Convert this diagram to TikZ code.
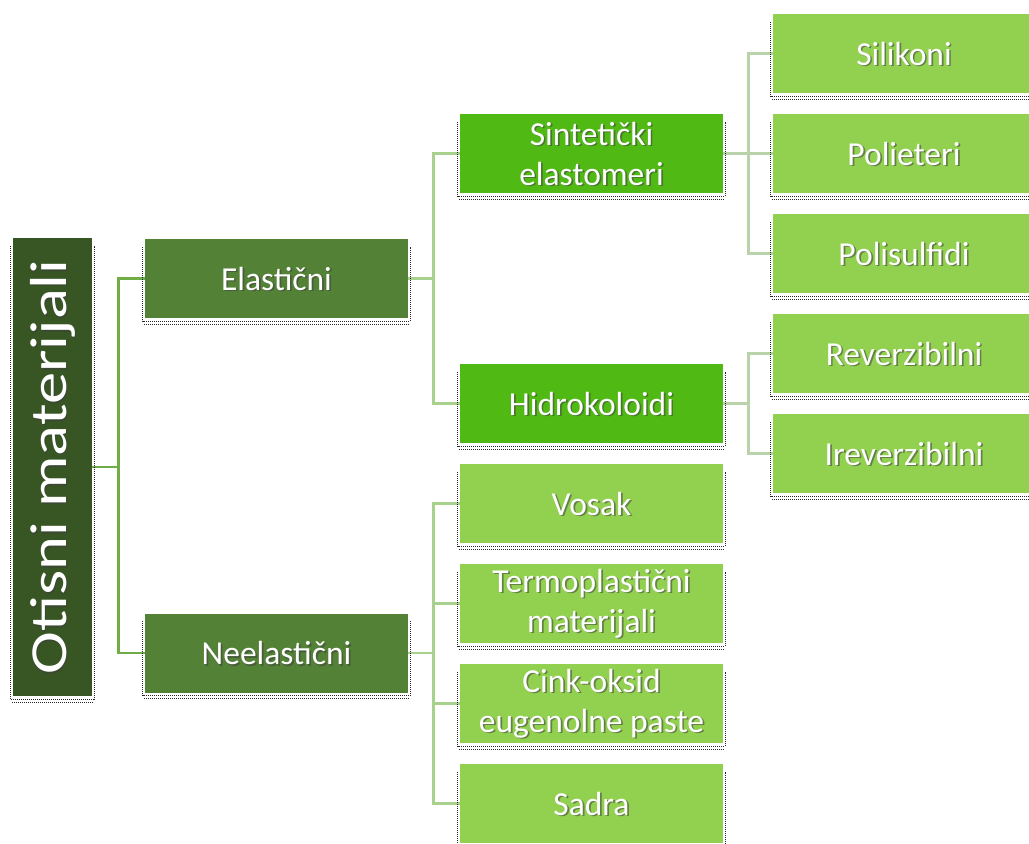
\documentclass[tikz,border=0pt]{standalone}
\usepackage{fontspec}
\setmainfont{Carlito}
\usetikzlibrary{backgrounds}
\definecolor{cRoot}{HTML}{375623}
\definecolor{cLa}{HTML}{538135}
\definecolor{cLb}{HTML}{50B914}
\definecolor{cLc}{HTML}{92D050}
\definecolor{lnA}{HTML}{70AD47}
\definecolor{lnB}{HTML}{A9D18E}
\definecolor{lnC}{HTML}{B8D3AA}
\tikzset{
  boxshape/.style={rectangle, inner sep=0pt, draw=none},
  txt/.style={text=white, align=center, inner sep=0pt, font=\fontsize{33.5}{40}\selectfont},
  txtshadow/.style={txt, text=black!75, opacity=0.55},
  shd/.style={black, line width=1.3pt, dash pattern=on 0.9pt off 1.1pt, opacity=0.85},
  conA/.style={lnA, line width=2.8pt},
  conB/.style={lnB, line width=2.8pt},
  conC/.style={lnC, line width=2.8pt},
}
\newcommand\mkbox[7]{%
  \node[boxshape, fill=#6, minimum width=#4pt, minimum height=#5pt] (#1) at (#2,#3) {};
  \node[txtshadow] at ([shift={(1.7pt,-1.7pt)}]#1.center) {#7};
  \node[txt] at (#1.center) {#7};
}
\begin{document}
\begin{tikzpicture}[x=1pt,y=-1pt]
\useasboundingbox (0,0) rectangle (1029,844);
% root
\node[boxshape, fill=cRoot, minimum width=79pt, minimum height=458pt] (root) at (52.5,467) {};
\node[txtshadow, rotate=90, font=\fontsize{52}{60}\selectfont] at ([shift={(1.7pt,-1.7pt)}]root.center) {\scalebox{1.24}[1]{Otisni materijali}};
\node[txt, rotate=90, font=\fontsize{52}{60}\selectfont] at (root.center) {\scalebox{1.24}[1]{Otisni materijali}};
% level 1
\mkbox{elast}{276.5}{278.5}{263}{79}{cLa}{Elastični}
\mkbox{neel}{276.5}{653}{263}{79}{cLa}{Neelastični}
% level 2
\mkbox{sint}{591.5}{153.5}{263}{79}{cLb}{Sintetički\\elastomeri}
\mkbox{hidro}{591.5}{403.5}{263}{79}{cLb}{Hidrokoloidi}
\mkbox{vosak}{591.5}{503.5}{263}{79}{cLc}{Vosak}
\mkbox{termo}{591.5}{603.5}{263}{79}{cLc}{Termoplastični\\materijali}
\mkbox{cink}{591.5}{703.5}{263}{79}{cLc}{Cink-oksid\\eugenolne paste}
\mkbox{sadra}{591.5}{803.5}{263}{79}{cLc}{Sadra}
% level 3
\mkbox{silik}{904}{53.5}{262}{79}{cLc}{Silikoni}
\mkbox{polie}{904}{153.5}{262}{79}{cLc}{Polieteri}
\mkbox{polis}{904}{253.5}{262}{79}{cLc}{Polisulfidi}
\mkbox{rev}{904}{353.5}{262}{79}{cLc}{Reverzibilni}
\mkbox{irev}{904}{453.5}{262}{79}{cLc}{Ireverzibilni}
\begin{scope}[on background layer]
  \draw[conA] (root.east) -- ++(26,0) |- (elast.west);
  \draw[conA] (root.east) -- ++(26,0) |- (neel.west);
  \draw[conB] (elast.east) -- ++(25,0) |- (sint.west);
  \draw[conB] (elast.east) -- ++(25,0) |- (hidro.west);
  \foreach \t in {vosak,termo,cink,sadra}
    \draw[conB] (neel.east) -- ++(25,0) |- (\t.west);
  \foreach \t in {silik,polie,polis}
    \draw[conC] (sint.east) -- ++(25,0) |- (\t.west);
  \foreach \t in {rev,irev}
    \draw[conC] (hidro.east) -- ++(25,0) |- (\t.west);
  \foreach \n in {root,elast,neel,sint,hidro,vosak,termo,cink,sadra,silik,polie,polis,rev,irev}{
    \draw[shd] ([shift={(-2pt,-8pt)}]\n.north west) |- ([shift={(2pt,-3pt)}]\n.south east) -- ([shift={(2pt,-8pt)}]\n.north east);
    \draw[shd] ([shift={(-1pt,-6pt)}]\n.south west) -- ([shift={(1pt,-6pt)}]\n.south east);
  }
\end{scope}
\end{tikzpicture}
\end{document}
